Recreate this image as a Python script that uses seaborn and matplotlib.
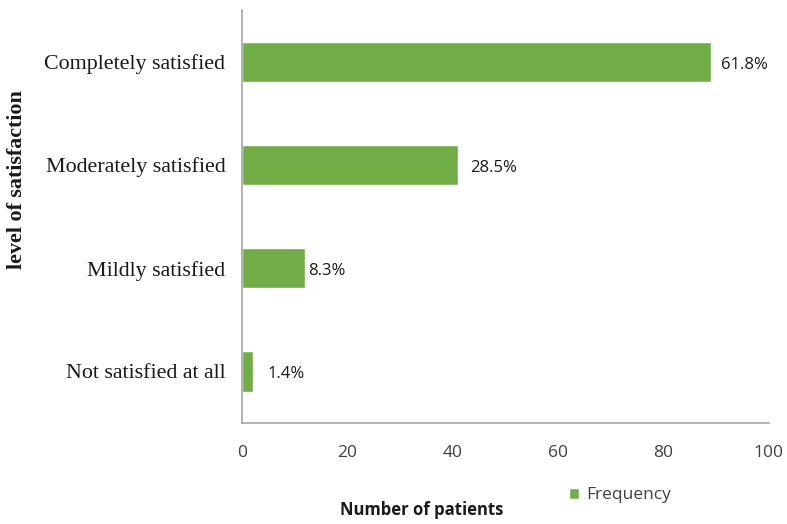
import matplotlib
matplotlib.use("Agg")
import matplotlib.pyplot as plt
from matplotlib.transforms import offset_copy
import seaborn as sns
import pandas as pd

# Survey results: patients per satisfaction level
levels = ["Completely satisfied", "Moderately satisfied", "Mildly satisfied", "Not satisfied at all"]
patients = [89, 41, 12, 2]
percent_labels = ["61.8%", "28.5%", "8.3%", "1.4%"]
x_ticks = [0, 20, 40, 60, 80, 100]

df = pd.DataFrame({"level": levels, "patients": patients})

sns.set_theme(style="white")
green = "#70AD47"

fig = plt.figure(figsize=(7.87, 5.24), dpi=100)
ax = fig.add_axes([0.3075, 0.1927, 0.6695, 0.788])

sns.barplot(data=df, x="patients", y="level", orient="h", color=green,
            width=0.39, saturation=1, ax=ax, label="Frequency")

ax.set_xlim(0, 100)
ax.set_xticks(x_ticks)
ax.set_xticklabels([str(t) for t in x_ticks], fontsize=12.5, family="Open Sans", color="#404040")
ax.set_ylim(3.5, -0.5)
ax.set_yticks(range(len(levels)))
ax.set_yticklabels(levels, fontsize=15.8, family="Liberation Serif", color="#1a1a1a")
ax.tick_params(axis="both", length=0)
ax.tick_params(axis="x", pad=16)
ax.tick_params(axis="y", pad=12)

for side in ("top", "right"):
    ax.spines[side].set_visible(False)
for side in ("left", "bottom"):
    ax.spines[side].set_color("#a6a6a6")
    ax.spines[side].set_linewidth(1.2)

# Percentage annotations beside each bar (gap in points after the bar end)
label_gaps = [7, 9, 2, 11]
for i, (val, lab, gap) in enumerate(zip(patients, percent_labels, label_gaps)):
    tr = offset_copy(ax.transData, fig=fig, x=gap, y=-2, units="points")
    ax.text(val, i, lab, va="center", ha="left", transform=tr,
            fontsize=12, family="Open Sans", color="#1a1a1a")

ax.set_ylabel("")
ax.set_xlabel("")
fig.text(0.022, 0.658, "level of satisfaction", rotation=90, ha="center", va="center",
         fontsize=15.8, family="Liberation Serif", fontweight="bold", color="#1a1a1a")
fig.text(0.536, 0.026, "Number of patients", ha="center", va="center",
         fontsize=12, family="Open Sans", fontweight="bold", color="#1a1a1a")

leg = ax.legend(loc="center", bbox_to_anchor=(0.717, -0.175), frameon=False,
                prop={"family": "Open Sans", "size": 12.5}, handlelength=0.6,
                handleheight=0.6, handletextpad=0.4)
for t in leg.get_texts():
    t.set_color("#404040")

fig.savefig("out.png", dpi=100)
